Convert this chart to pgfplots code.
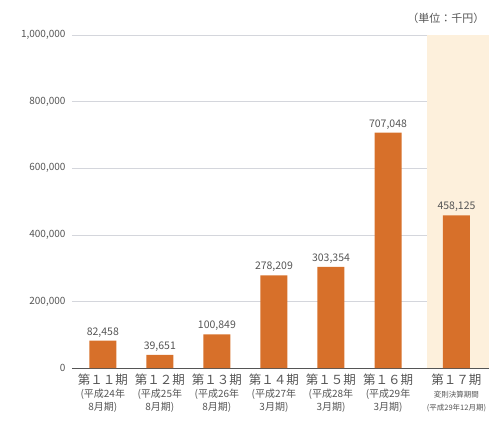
\documentclass[border=0pt]{standalone}
\usepackage{fontspec}
\setmainfont{Noto Sans CJK JP}
\usepackage{pgfplots}
\pgfplotsset{compat=1.18}
\definecolor{barc}{HTML}{D7702A}
\definecolor{shade}{HTML}{FDF0DC}
\definecolor{txt}{HTML}{555555}
\definecolor{gridc}{HTML}{D4D6DC}
\newcommand{\lab}[3]{{\fontsize{12.5}{14}\selectfont 第#1期}\\[1pt]{\fontsize{10}{13}\selectfont (平成#2年}\\[1pt]{\fontsize{10}{13}\selectfont #3月期)}}
\begin{document}
\begin{tikzpicture}
\path[use as bounding box] (-72pt,-58pt) rectangle (417pt,368pt);
\begin{axis}[
  at={(0,0)}, anchor=south west,
  scale only axis, width=417pt, height=333pt,
  xmin=-0.54, xmax=6.77,
  ymin=0, ymax=1000000,
  axis x line=bottom, axis y line=left,
  x axis line style={color=txt, line width=0.8pt, -},
  y axis line style={draw=none},
  ytick={0,200000,400000,600000,800000,1000000},
  ymajorgrids, grid style={gridc, line width=0.6pt},
  yticklabel style={font=\fontsize{10}{11}\selectfont, color=txt, xshift=-3pt},
  /pgf/number format/fixed,
  /pgf/number format/1000 sep={,},
  /pgf/number format/assume math mode=true,
  scaled y ticks=false,
  major tick length=0pt,
  xtick={0,1,2,3,4,5,6.2},
  xticklabels={\lab{１１}{24}{8},\lab{１２}{25}{8},\lab{１３}{26}{8},\lab{１４}{27}{3},\lab{１５}{28}{3},\lab{１６}{29}{3},{{\fontsize{12.5}{14}\selectfont 第１７期}\\[1pt]{\fontsize{7.5}{13}\selectfont 変則決算期間}\\[1pt]{\fontsize{7.5}{13}\selectfont (平成29年12月期)}}},
  xticklabel style={align=center, color=txt, yshift=-2pt},
  clip=false,
]
\addplot[draw=none, fill=shade, forget plot] coordinates {(5.68,0) (6.77,0) (6.77,1000000) (5.68,1000000)} -- cycle;
\addplot[ybar, bar width=27pt, fill=barc, draw=none,
  nodes near coords, nodes near coords style={font=\fontsize{10.5}{12}\selectfont, color=txt}]
  coordinates {(0,82458) (1,39651) (2,100849) (3,278209) (4,303354) (5,707048) (6.2,458125)};
\node[font=\fontsize{11}{12}\selectfont, color=txt, anchor=east, yshift=17pt, xshift=-1pt] at (rel axis cs:1,1) {（単位：千円）};
\end{axis}
\end{tikzpicture}
\end{document}
